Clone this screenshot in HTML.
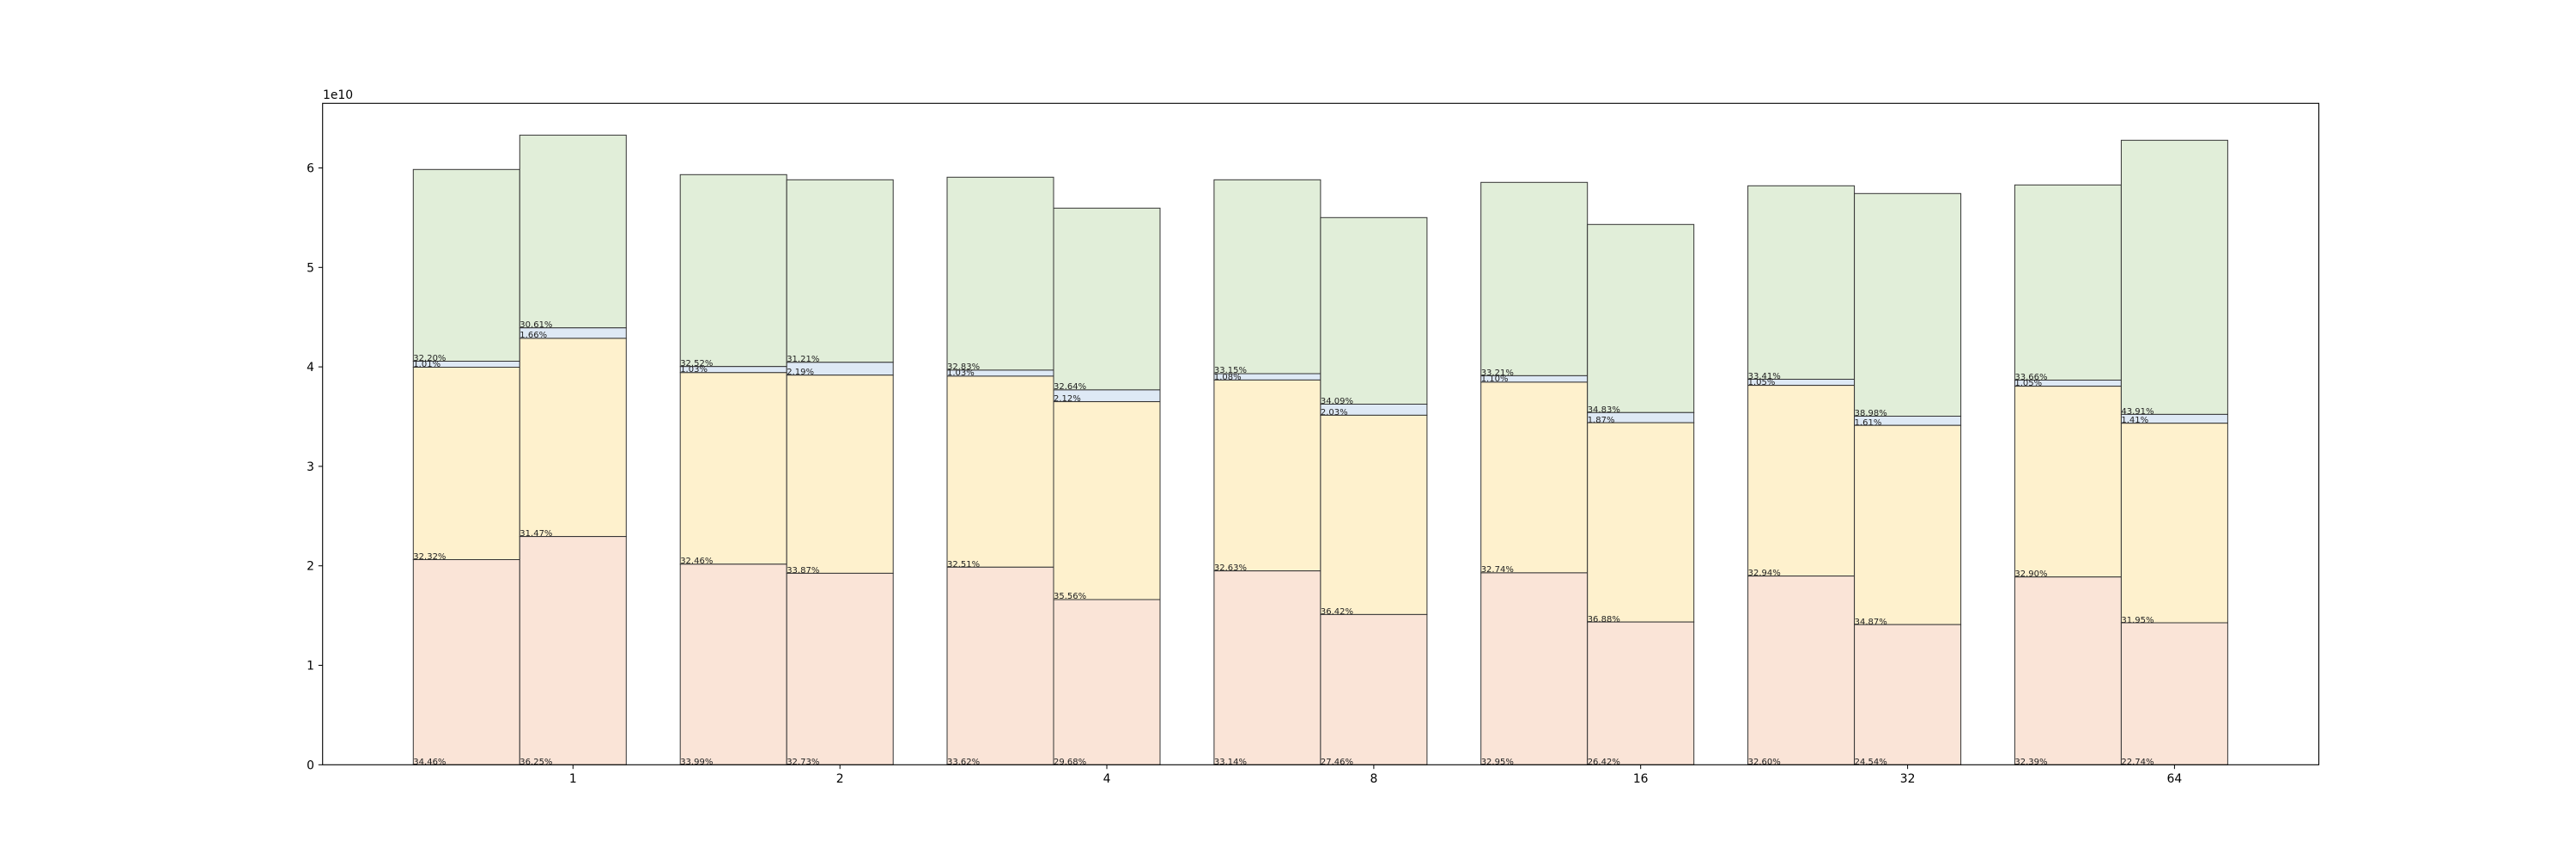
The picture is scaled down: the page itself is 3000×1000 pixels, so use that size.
<!DOCTYPE html>
<html><head><meta charset="utf-8"><style>
html,body{margin:0;padding:0;background:#fff;}
svg{display:block;}
.l{font-family:"DejaVu Sans","Liberation Sans",sans-serif;font-size:10px;fill:#222;}
.t{font-family:"DejaVu Sans","Liberation Sans",sans-serif;font-size:13.9px;fill:#000;}
.p{fill:#fae4d7;stroke:#333;stroke-width:1;}
.y{fill:#fef1cd;stroke:#333;stroke-width:1;}
.b{fill:#dee9f5;stroke:#333;stroke-width:1;}
.g{fill:#e1eed9;stroke:#333;stroke-width:1;}
</style></head><body>
<svg width="3000" height="1000" viewBox="0 0 3000 1000" xmlns="http://www.w3.org/2000/svg">
<rect width="3000" height="1000" fill="#fff"/>

<!-- G1 A -->
<rect class="g" x="481.3" y="197.3" width="124" height="223.2"/>
<rect class="b" x="481.3" y="420.5" width="124" height="7"/>
<rect class="y" x="481.3" y="427.5" width="124" height="224"/>
<rect class="p" x="481.3" y="651.5" width="124" height="238.8"/>
<!-- G1 B -->
<rect class="g" x="605.3" y="157.3" width="124" height="224.4"/>
<rect class="b" x="605.3" y="381.7" width="124" height="12.2"/>
<rect class="y" x="605.3" y="393.9" width="124" height="230.7"/>
<rect class="p" x="605.3" y="624.6" width="124" height="265.7"/>
<!-- G2 A -->
<rect class="g" x="792.2" y="203.3" width="124" height="223.4"/>
<rect class="b" x="792.2" y="426.7" width="124" height="7.1"/>
<rect class="y" x="792.2" y="433.8" width="124" height="223"/>
<rect class="p" x="792.2" y="656.8" width="124" height="233.5"/>
<!-- G2 B -->
<rect class="g" x="916.2" y="209.3" width="124" height="212.5"/>
<rect class="b" x="916.2" y="421.8" width="124" height="14.9"/>
<rect class="y" x="916.2" y="436.7" width="124" height="230.7"/>
<rect class="p" x="916.2" y="667.4" width="124" height="222.9"/>
<!-- G4 A -->
<rect class="g" x="1103" y="206.3" width="124" height="224.6"/>
<rect class="b" x="1103" y="430.9" width="124" height="7"/>
<rect class="y" x="1103" y="437.9" width="124" height="222.4"/>
<rect class="p" x="1103" y="660.3" width="124" height="230"/>
<!-- G4 B -->
<rect class="g" x="1227" y="242.3" width="124" height="211.6"/>
<rect class="b" x="1227" y="453.9" width="124" height="13.7"/>
<rect class="y" x="1227" y="467.6" width="124" height="230.4"/>
<rect class="p" x="1227" y="698" width="124" height="192.3"/>
<!-- G8 A -->
<rect class="g" x="1413.9" y="209.3" width="124" height="225.7"/>
<rect class="b" x="1413.9" y="435" width="124" height="7.4"/>
<rect class="y" x="1413.9" y="442.4" width="124" height="222.2"/>
<rect class="p" x="1413.9" y="664.6" width="124" height="225.7"/>
<!-- G8 B -->
<rect class="g" x="1537.9" y="253.3" width="124" height="217.2"/>
<rect class="b" x="1537.9" y="470.5" width="124" height="12.9"/>
<rect class="y" x="1537.9" y="483.4" width="124" height="232"/>
<rect class="p" x="1537.9" y="715.4" width="124" height="174.9"/>
<!-- G16 A -->
<rect class="g" x="1724.7" y="212.3" width="124" height="225.1"/>
<rect class="b" x="1724.7" y="437.4" width="124" height="7.5"/>
<rect class="y" x="1724.7" y="444.9" width="124" height="222"/>
<rect class="p" x="1724.7" y="666.9" width="124" height="223.4"/>
<!-- G16 B -->
<rect class="g" x="1848.7" y="261.3" width="124" height="219"/>
<rect class="b" x="1848.7" y="480.3" width="124" height="11.8"/>
<rect class="y" x="1848.7" y="492.1" width="124" height="232"/>
<rect class="p" x="1848.7" y="724.1" width="124" height="166.2"/>
<!-- G32 A -->
<rect class="g" x="2035.6" y="216.3" width="124" height="225.2"/>
<rect class="b" x="2035.6" y="441.5" width="124" height="7.1"/>
<rect class="y" x="2035.6" y="448.6" width="124" height="222"/>
<rect class="p" x="2035.6" y="670.6" width="124" height="219.7"/>
<!-- G32 B -->
<rect class="g" x="2159.6" y="225.3" width="124" height="259.2"/>
<rect class="b" x="2159.6" y="484.5" width="124" height="10.7"/>
<rect class="y" x="2159.6" y="495.2" width="124" height="231.9"/>
<rect class="p" x="2159.6" y="727.1" width="124" height="163.2"/>
<!-- G64 A -->
<rect class="g" x="2346.4" y="215.3" width="124" height="227.2"/>
<rect class="b" x="2346.4" y="442.5" width="124" height="7.1"/>
<rect class="y" x="2346.4" y="449.6" width="124" height="222.1"/>
<rect class="p" x="2346.4" y="671.7" width="124" height="218.6"/>
<!-- G64 B -->
<rect class="g" x="2470.4" y="163.3" width="124" height="319.1"/>
<rect class="b" x="2470.4" y="482.4" width="124" height="10.3"/>
<rect class="y" x="2470.4" y="492.7" width="124" height="232.3"/>
<rect class="p" x="2470.4" y="725" width="124" height="165.3"/>

<!-- labels -->
<g class="l">
<text x="481.3" y="890">34.46%</text><text x="481.3" y="651">32.32%</text><text x="481.3" y="427">1.01%</text><text x="481.3" y="420">32.20%</text>
<text x="605.3" y="890">36.25%</text><text x="605.3" y="624">31.47%</text><text x="605.3" y="393">1.66%</text><text x="605.3" y="381">30.61%</text>
<text x="792.2" y="890">33.99%</text><text x="792.2" y="656">32.46%</text><text x="792.2" y="433">1.03%</text><text x="792.2" y="426">32.52%</text>
<text x="916.2" y="890">32.73%</text><text x="916.2" y="667">33.87%</text><text x="916.2" y="436">2.19%</text><text x="916.2" y="421">31.21%</text>
<text x="1103" y="890">33.62%</text><text x="1103" y="660">32.51%</text><text x="1103" y="437">1.03%</text><text x="1103" y="430">32.83%</text>
<text x="1227" y="890">29.68%</text><text x="1227" y="697">35.56%</text><text x="1227" y="467">2.12%</text><text x="1227" y="453">32.64%</text>
<text x="1413.9" y="890">33.14%</text><text x="1413.9" y="664">32.63%</text><text x="1413.9" y="442">1.08%</text><text x="1413.9" y="434">33.15%</text>
<text x="1537.9" y="890">27.46%</text><text x="1537.9" y="715">36.42%</text><text x="1537.9" y="483">2.03%</text><text x="1537.9" y="470">34.09%</text>
<text x="1724.7" y="890">32.95%</text><text x="1724.7" y="666">32.74%</text><text x="1724.7" y="444">1.10%</text><text x="1724.7" y="437">33.21%</text>
<text x="1848.7" y="890">26.42%</text><text x="1848.7" y="724">36.88%</text><text x="1848.7" y="492">1.87%</text><text x="1848.7" y="480">34.83%</text>
<text x="2035.6" y="890">32.60%</text><text x="2035.6" y="670">32.94%</text><text x="2035.6" y="448">1.05%</text><text x="2035.6" y="441">33.41%</text>
<text x="2159.6" y="890">24.54%</text><text x="2159.6" y="727">34.87%</text><text x="2159.6" y="495">1.61%</text><text x="2159.6" y="484">38.98%</text>
<text x="2346.4" y="890">32.39%</text><text x="2346.4" y="671">32.90%</text><text x="2346.4" y="449">1.05%</text><text x="2346.4" y="442">33.66%</text>
<text x="2470.4" y="890">22.74%</text><text x="2470.4" y="725">31.95%</text><text x="2470.4" y="492">1.41%</text><text x="2470.4" y="482">43.91%</text>
</g>

<!-- axes frame -->
<rect x="375.7" y="120.3" width="2324.8" height="770" fill="none" stroke="#000" stroke-width="1.1"/>

<!-- y ticks -->
<g stroke="#000" stroke-width="1">
<line x1="370.8" y1="890.3" x2="375.7" y2="890.3"/>
<line x1="370.8" y1="774.5" x2="375.7" y2="774.5"/>
<line x1="370.8" y1="658.7" x2="375.7" y2="658.7"/>
<line x1="370.8" y1="542.9" x2="375.7" y2="542.9"/>
<line x1="370.8" y1="427.1" x2="375.7" y2="427.1"/>
<line x1="370.8" y1="311.3" x2="375.7" y2="311.3"/>
<line x1="370.8" y1="195.5" x2="375.7" y2="195.5"/>
<line x1="667.3" y1="890.3" x2="667.3" y2="895.2"/>
<line x1="978.2" y1="890.3" x2="978.2" y2="895.2"/>
<line x1="1289" y1="890.3" x2="1289" y2="895.2"/>
<line x1="1599.9" y1="890.3" x2="1599.9" y2="895.2"/>
<line x1="1910.7" y1="890.3" x2="1910.7" y2="895.2"/>
<line x1="2221.6" y1="890.3" x2="2221.6" y2="895.2"/>
<line x1="2532.4" y1="890.3" x2="2532.4" y2="895.2"/>
</g>
<g class="t" text-anchor="end">
<text x="366" y="895.3">0</text>
<text x="366" y="779.5">1</text>
<text x="366" y="663.7">2</text>
<text x="366" y="547.9">3</text>
<text x="366" y="432.1">4</text>
<text x="366" y="316.3">5</text>
<text x="366" y="200.5">6</text>
</g>
<g class="t" text-anchor="middle">
<text x="667.3" y="911">1</text>
<text x="978.2" y="911">2</text>
<text x="1289" y="911">4</text>
<text x="1599.9" y="911">8</text>
<text x="1910.7" y="911">16</text>
<text x="2221.6" y="911">32</text>
<text x="2532.4" y="911">64</text>
</g>
<text class="t" x="376" y="115">1e10</text>
</svg>
</body></html>
